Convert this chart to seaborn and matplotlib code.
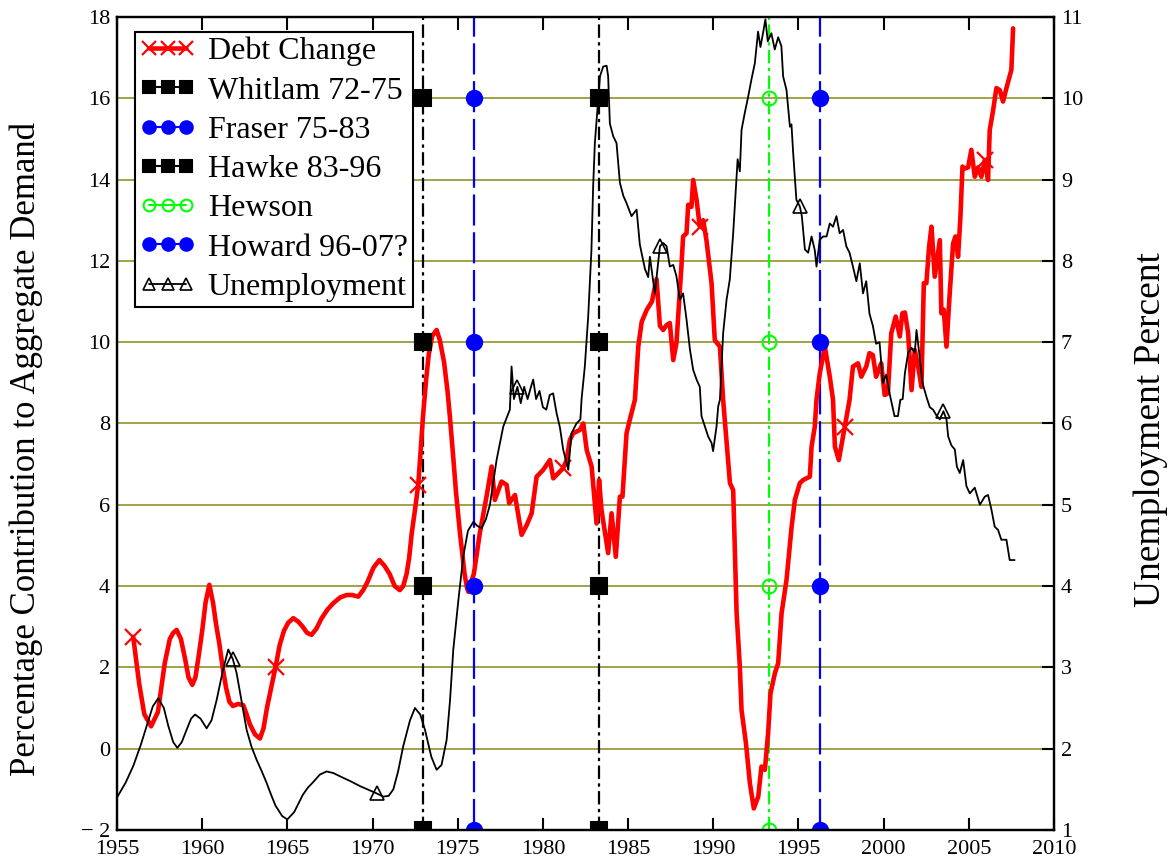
import numpy as np
import matplotlib
matplotlib.use('Agg')
import matplotlib.pyplot as plt
from matplotlib.lines import Line2D
import seaborn as sns

# debt change, percentage contribution to aggregate demand (left axis)
debt_year = [1955.95, 1956.3, 1956.6, 1957.0, 1957.4, 1957.8, 1958.1, 1958.3, 1958.5, 1958.75,
             1959.0, 1959.2, 1959.42, 1959.6, 1959.8, 1960.0, 1960.2, 1960.42, 1960.64, 1960.8,
             1961.0, 1961.2, 1961.4, 1961.6, 1961.8, 1962.1, 1962.41, 1962.6, 1962.8, 1963.1,
             1963.39, 1963.6, 1963.8, 1964.05, 1964.31, 1964.55, 1964.8, 1965.05, 1965.35, 1965.65,
             1965.9, 1966.15, 1966.42, 1966.7, 1967.0, 1967.35, 1967.7, 1968.1, 1968.48, 1968.8,
             1969.16, 1969.45, 1969.7, 1970.05, 1970.4, 1970.7, 1971.0, 1971.3, 1971.6, 1971.8,
             1972.0, 1972.15, 1972.3, 1972.5, 1972.68, 1972.82, 1972.96, 1973.15, 1973.3, 1973.5,
             1973.76, 1973.95, 1974.2, 1974.4, 1974.54, 1974.75, 1974.9, 1975.13, 1975.4, 1975.55,
             1975.62, 1975.95, 1976.3,
             1976.69, 1976.99, 1977.18, 1977.57, 1977.87, 1978.02, 1978.36, 1978.75, 1979.05, 1979.34,
             1979.63, 1980.02, 1980.41, 1980.61, 1981.19, 1981.39, 1981.58, 1981.78, 1982.17, 1982.37,
             1982.57, 1982.86, 1983.15, 1983.3, 1983.44, 1983.83, 1984.03, 1984.28, 1984.52, 1984.67,
             1984.91, 1985.1, 1985.4, 1985.6, 1985.8, 1986.1, 1986.4, 1986.67, 1986.87, 1987.06,
             1987.26, 1987.45, 1987.65, 1987.84, 1988.13, 1988.23, 1988.43, 1988.53, 1988.72, 1988.82,
             1989.02, 1989.21, 1989.41, 1989.6, 1989.9, 1990.09, 1990.39, 1990.58, 1990.82, 1990.98,
             1991.17, 1991.37, 1991.56, 1991.66, 1991.92, 1992.15, 1992.38, 1992.64, 1992.83, 1993.03,
             1993.22, 1993.36, 1993.62, 1993.81, 1994.01, 1994.3, 1994.6, 1994.79, 1995.08, 1995.28,
             1995.67, 1995.77, 1995.96, 1996.06, 1996.25, 1996.55, 1996.84, 1997.03, 1997.14, 1997.37,
             1997.72, 1998.0, 1998.2, 1998.5, 1998.69, 1998.98, 1999.17, 1999.37, 1999.56, 1999.86,
             2000.06, 2000.25, 2000.45, 2000.71, 2000.95, 2001.1, 2001.25, 2001.44, 2001.64, 2001.83,
             2002.03, 2002.22, 2002.36, 2002.51, 2002.67, 2002.81, 2003.0, 2003.3, 2003.39, 2003.53,
             2003.69, 2003.88, 2004.08, 2004.22, 2004.37, 2004.51, 2004.63, 2004.76, 2004.96, 2005.15,
             2005.35, 2005.55, 2005.74, 2005.94, 2006.13, 2006.23, 2006.43, 2006.62, 2006.82, 2007.01,
             2007.21, 2007.5, 2007.6]
debt_val = [2.75, 1.6, 0.85, 0.55, 0.9, 2.1, 2.7, 2.85, 2.92, 2.7,
            2.2, 1.75, 1.57, 1.75, 2.3, 2.9, 3.6, 4.03, 3.58, 3.1,
            2.6, 2.0, 1.5, 1.15, 1.05, 1.1, 1.07, 0.85, 0.6, 0.35,
            0.25, 0.5, 1.0, 1.5, 2.02, 2.55, 2.9, 3.1, 3.21, 3.12,
            3.0, 2.85, 2.8, 2.95, 3.2, 3.42, 3.58, 3.72, 3.78, 3.78,
            3.74, 3.9, 4.1, 4.45, 4.64, 4.5, 4.3, 4.0, 3.9, 4.0,
            4.3, 4.7, 5.3, 5.9, 6.49, 7.3, 8.17, 9.1, 9.7, 10.15,
            10.3, 10.05, 9.5, 8.8, 8.17, 7.1, 6.3, 5.31, 4.3, 3.95,
            3.86, 4.31, 5.31,
            6.2, 6.94, 6.12, 6.57, 6.49, 6.04, 6.24, 5.26, 5.5, 5.79,
            6.69, 6.86, 7.1, 6.65, 6.9, 7.1, 7.59, 7.76, 7.84, 8.0,
            7.35, 6.94, 5.54, 6.61, 5.87, 4.81, 5.79, 4.72, 6.2, 6.2,
            7.76, 8.09, 8.58, 9.9, 10.5, 10.8, 11.0, 11.55, 10.4, 10.3,
            10.42, 10.47, 9.56, 9.98, 11.86, 12.6, 12.68, 13.38, 13.33, 13.99,
            13.5, 12.84, 13.0, 12.51, 11.45, 10.05, 9.89, 8.58, 7.35, 6.53,
            6.36, 3.34, 2.02, 0.95, 0.13, -0.85, -1.47, -1.18, -0.44, -0.52,
            0.38, 1.36, 1.86, 2.1, 3.33, 4.15, 5.46, 6.12, 6.53, 6.61,
            6.69, 7.43, 7.92, 8.58, 9.23, 9.89, 9.15, 8.58, 7.43, 7.1,
            7.92, 8.58, 9.4, 9.48, 9.15, 9.4, 9.73, 9.68, 9.15, 9.48,
            8.7, 8.74, 10.22, 10.63, 10.14, 10.71, 10.73, 10.22, 8.82, 9.81,
            9.4, 8.9, 11.45, 11.45, 12.35, 12.84, 11.61, 12.51, 10.71, 10.8,
            9.89, 11.2, 12.43, 12.6, 12.1, 13.09, 14.32, 14.27, 14.3, 14.73,
            14.07, 14.3, 14.07, 14.48, 13.99, 15.22, 15.71, 16.25, 16.2, 15.92,
            16.25, 16.7, 17.72]

# unemployment percent (right axis)
unemp_year = [1955.0, 1955.5, 1955.96, 1956.4, 1956.74, 1957.1, 1957.42, 1957.75, 1958.01, 1958.3,
              1958.54, 1958.8, 1959.08, 1959.35, 1959.58, 1959.9, 1960.26, 1960.55, 1960.85, 1961.2,
              1961.53, 1961.8, 1962.02, 1962.3, 1962.61, 1962.9, 1963.2, 1963.5, 1963.78, 1964.05,
              1964.3, 1964.7, 1965.0, 1965.4, 1965.9, 1966.2, 1966.52, 1966.9, 1967.3, 1967.7,
              1968.09, 1968.7, 1969.26, 1969.8, 1970.24, 1970.63, 1970.95, 1971.22, 1971.5, 1971.8,
              1972.2, 1972.49, 1972.8, 1973.08, 1973.45, 1973.76, 1974.05, 1974.35, 1974.55, 1974.74,
              1975.05, 1975.33, 1975.6, 1975.92, 1976.15, 1976.4, 1976.65, 1976.89, 1977.28, 1977.67,
              1978.06, 1978.16, 1978.3, 1978.5, 1978.7, 1978.9, 1979.1, 1979.3, 1979.43, 1979.6,
              1979.8, 1980.0, 1980.2, 1980.4, 1980.6, 1980.8, 1981.0, 1981.19, 1981.49, 1981.68,
              1981.97, 1982.2, 1982.27, 1982.46, 1982.66, 1982.85, 1982.95, 1983.05, 1983.24, 1983.35,
              1983.54, 1983.74, 1983.83, 1983.93, 1984.13, 1984.32, 1984.52, 1984.72, 1984.91, 1985.2,
              1985.5, 1985.69, 1985.99, 1986.18, 1986.28, 1986.57, 1986.87, 1987.06, 1987.26, 1987.45,
              1987.65, 1987.84, 1988.04, 1988.23, 1988.43, 1988.63, 1988.82, 1989.02, 1989.21, 1989.31,
              1989.51, 1989.7, 1989.9, 1989.99, 1990.19, 1990.29, 1990.39, 1990.58, 1990.78, 1990.97,
              1991.17, 1991.37, 1991.43, 1991.56, 1991.66, 1991.85, 1992.05, 1992.24, 1992.44, 1992.63,
              1992.77, 1992.92, 1993.06, 1993.2, 1993.41, 1993.61, 1993.81, 1994.0, 1994.1, 1994.3,
              1994.5, 1994.59, 1994.69, 1994.88, 1995.08, 1995.2, 1995.38, 1995.57, 1995.77, 1995.96,
              1996.06, 1996.25, 1996.45, 1996.65, 1996.84, 1997.03, 1997.23, 1997.42, 1997.62, 1997.81,
              1998.0, 1998.2, 1998.4, 1998.6, 1998.79, 1998.98, 1999.17, 1999.37, 1999.56, 1999.76,
              1999.96, 2000.15, 2000.35, 2000.64, 2000.84, 2000.98, 2001.12, 2001.25, 2001.44, 2001.64,
              2001.83, 2001.93, 2002.1, 2002.28, 2002.51, 2002.71, 2002.9, 2003.1, 2003.3, 2003.51,
              2003.69, 2003.79, 2003.98, 2004.18, 2004.3, 2004.47, 2004.67, 2004.86, 2005.06, 2005.35,
              2005.65, 2005.94, 2006.13, 2006.33, 2006.52, 2006.72, 2006.91, 2007.21, 2007.4, 2007.69]
unemp_pct = [1.40, 1.58, 1.79, 2.05, 2.28, 2.52, 2.62, 2.5, 2.28, 2.08,
             2.01, 2.08, 2.23, 2.37, 2.42, 2.37, 2.25, 2.35, 2.6, 2.95,
             3.22, 3.1, 2.93, 2.6, 2.23, 2.02, 1.86, 1.72, 1.58, 1.43,
             1.3, 1.17, 1.13, 1.22, 1.43, 1.52, 1.59, 1.68, 1.72, 1.7,
             1.66, 1.6, 1.54, 1.49, 1.45, 1.41, 1.42, 1.5, 1.72, 2.03,
             2.35, 2.5, 2.42, 2.23, 1.9, 1.74, 1.8, 2.11, 2.6, 3.22,
             3.85, 4.37, 4.68, 4.79, 4.74, 4.71, 4.82, 5.0, 5.55, 5.96,
             6.17, 6.7, 6.3, 6.45, 6.25, 6.45, 6.3, 6.45, 6.54, 6.3,
             6.4, 6.2, 6.17, 6.35, 6.37, 6.13, 5.95, 5.68, 5.43, 5.88,
             6.0, 6.05, 6.3, 6.7, 7.32, 8.14, 8.92, 9.45, 9.98, 10.27,
             10.39, 10.4, 10.27, 9.69, 9.53, 9.45, 8.96, 8.8, 8.71, 8.55,
             8.63, 8.2, 7.9, 7.8, 8.05, 7.6, 8.18, 8.22, 8.18, 7.93,
             7.95, 7.81, 7.52, 7.6, 7.28, 6.91, 6.66, 6.54, 6.45, 6.09,
             5.96, 5.84, 5.76, 5.66, 5.96, 6.21, 6.29, 7.11, 7.52, 7.77,
             8.34, 9.04, 9.25, 9.1, 9.61, 9.82, 10.02, 10.23, 10.43, 10.82,
             10.63, 10.8, 10.97, 10.7, 10.8, 10.6, 10.75, 10.64, 10.27, 10.1,
             9.65, 9.68, 9.33, 8.75, 8.67, 8.55, 8.14, 8.1, 8.3, 8.13,
             7.93, 8.26, 8.3, 8.3, 8.46, 8.42, 8.55, 8.34, 8.38, 8.18,
             8.1, 7.93, 7.75, 7.97, 7.6, 7.75, 7.35, 7.2, 6.98, 7.0,
             6.5, 6.6, 6.37, 6.09, 6.09, 6.29, 6.3, 6.62, 6.87, 6.93,
             6.87, 7.15, 6.85, 6.5, 6.33, 6.2, 6.17, 6.1, 6.05, 6.15,
             6.05, 5.84, 5.73, 5.68, 5.47, 5.39, 5.55, 5.23, 5.14, 5.21,
             5.0, 5.1, 5.12, 4.94, 4.73, 4.69, 4.57, 4.57, 4.32, 4.32]

leaders = ['Whitlam 72-75', 'Fraser 75-83', 'Hawke 83-96', 'Hewson', 'Howard 96-07?']
leader_year = [1972.95, 1975.95, 1983.27, 1993.25, 1996.28]
leader_color = ['black', 'blue', 'black', 'lime', 'blue']
leader_marker = ['s', 'o', 's', 'o', 'o']
leader_fill = ['black', 'blue', 'black', 'none', 'blue']
leader_dash = [(0, (6, 2, 1.5, 2)), (0, (14, 3)), (0, (6, 2, 1.5, 2)), (0, (6, 2, 1.5, 2)), (0, (14, 3))]
marker_levels = [-2, 4, 10, 16]

xticks = list(range(1955, 2011, 5))
left_ticks = list(range(-2, 19, 2))
left_labels = ['\u2212 2'] + [str(v) for v in left_ticks[1:]]
right_ticks = list(range(1, 12))

MARK_STEP = 100 / 12  # a marker every 100 months
UNEMP_MARK_START = 1961.8


def mark_index(xs, start, step):
    xs = np.asarray(xs)
    targets = np.arange(start, xs[-1] + 0.01, step)
    return sorted(set(int(np.argmin(np.abs(xs - t))) for t in targets))


sns.set_theme(style='white')
plt.rcParams['font.family'] = ['Liberation Serif', 'DejaVu Serif']
plt.rcParams['axes.unicode_minus'] = True
for k in ['text.color', 'axes.labelcolor', 'xtick.color', 'ytick.color']:
    plt.rcParams[k] = 'black'

fig = plt.figure(figsize=(11.69, 8.65), dpi=100)
ax = fig.add_axes([0.1001, 0.0405, 0.8015, 0.9399])
ax2 = ax.twinx()

grid_col = '#9b9b3a'
ax.set_yticks(left_ticks)
ax.yaxis.grid(True, color=grid_col, lw=1.3)
ax.xaxis.grid(False)

for yr, col, ls in zip(leader_year, leader_color, leader_dash):
    ax.axvline(yr, color=col, ls=ls, lw=1.6, zorder=2)

sns.lineplot(x=debt_year, y=debt_val, ax=ax, color='red', lw=3.3, estimator=None, sort=False,
             marker='x', ms=11, mew=1.6, mec='red',
             markevery=mark_index(debt_year, debt_year[0], MARK_STEP), zorder=3, legend=False)

for yr, col, mk, fc in zip(leader_year, leader_color, leader_marker, leader_fill):
    ax.plot([yr] * len(marker_levels), marker_levels, ls='none', marker=mk,
            ms=11 if fc != 'none' else 10, mfc=fc, mec=col, mew=1.5, zorder=4)

sns.lineplot(x=unemp_year, y=unemp_pct, ax=ax2, color='black', lw=1.3, estimator=None, sort=False,
             marker='^', ms=10, mfc='none', mec='black', mew=1.2,
             markevery=mark_index(unemp_year, UNEMP_MARK_START, MARK_STEP), legend=False)

ax.set_xlim(1955, 2010)
ax.set_ylim(-2, 18)
ax2.set_ylim(1, 11)
ax.set_xticks(xticks)
ax.set_yticklabels(left_labels)
ax2.set_yticks(right_ticks)

for a in (ax, ax2):
    for s in a.spines.values():
        s.set_color('black')
        s.set_linewidth(1.6)

ax.tick_params(axis='x', direction='in', length=9, width=1.5, top=True, bottom=True,
               labelsize=16, pad=7, colors='black')
ax.tick_params(axis='y', length=0, labelsize=16, pad=5, labelcolor='black')
ax2.tick_params(axis='y', direction='in', length=9, width=1.5, right=True,
                labelsize=16, pad=5, colors='black')

ax.set_xlabel('')
ax.set_ylabel('Percentage Contribution to Aggregate Demand', fontsize=25, color='black')
ax.yaxis.set_label_coords(-0.079, 0.4686)
ax2.set_ylabel('Unemployment Percent', fontsize=27, color='black')
ax2.yaxis.set_label_coords(1.0854, 0.492)

handles = [Line2D([], [], color='red', lw=3.3, marker='x', ms=10, mew=1.6)]
for col, mk, fc in zip(leader_color, leader_marker, leader_fill):
    handles.append(Line2D([], [], color=col, lw=1.5, marker=mk, ms=9 if fc != 'none' else 8.5,
                          mfc=fc, mec=col, mew=1.5))
handles.append(Line2D([], [], color='black', lw=1.3, marker='^', ms=8.5, mfc='none', mew=1.2))
labels = ['Debt Change'] + leaders + ['Unemployment']

leg = ax2.legend(handles, labels, loc='upper left', bbox_to_anchor=(0.0192, 0.9815),
                 borderaxespad=0, numpoints=3, handlelength=1.75, handletextpad=0.38,
                 borderpad=0.15, labelspacing=0.31, fontsize=23, frameon=True,
                 fancybox=False, edgecolor='black', framealpha=1)
leg.get_frame().set_linewidth(1.5)
for t in leg.get_texts():
    t.set_color('black')

fig.savefig('out.png', dpi=100)
